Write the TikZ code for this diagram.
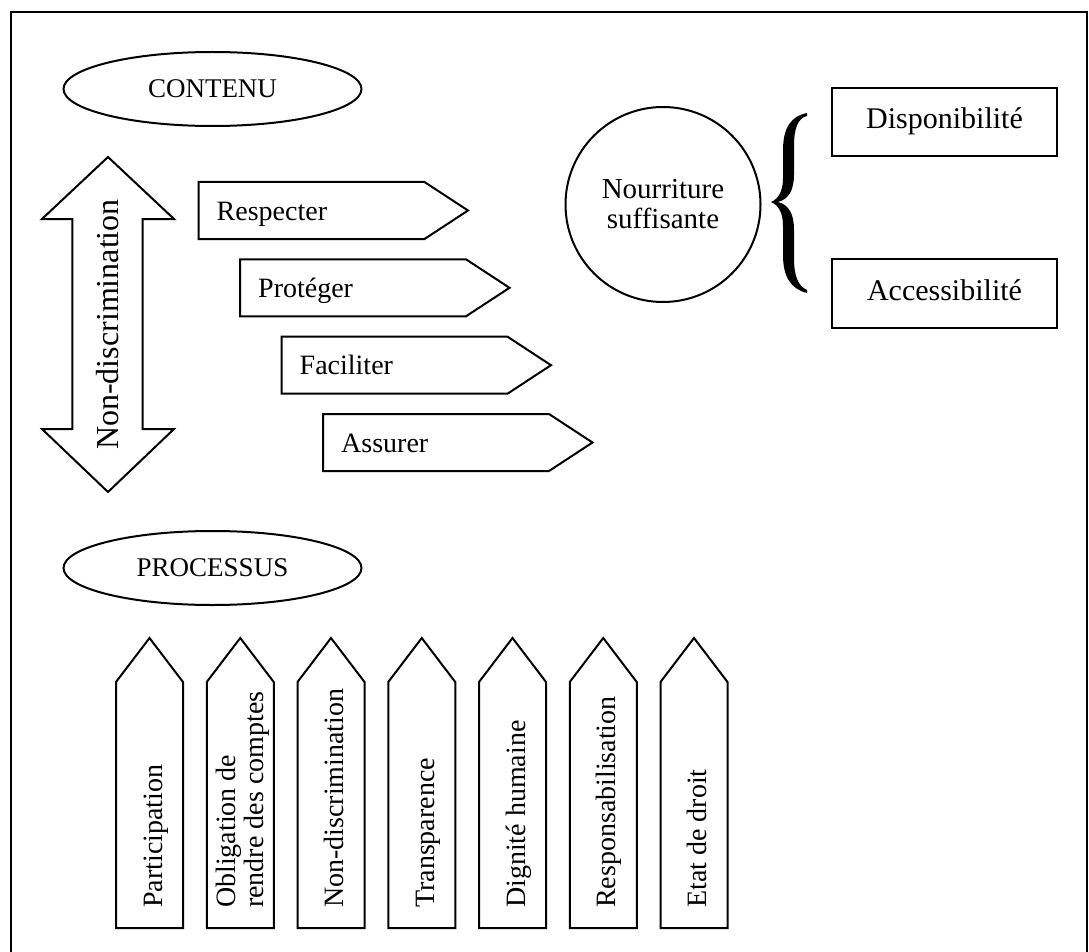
\documentclass[tikz,border=0pt]{standalone}
\usepackage{fontspec}
\setmainfont{Liberation Serif}
\usetikzlibrary{shapes.geometric}
\begin{document}
\begin{tikzpicture}[x=1pt,y=-1pt,
  shp/.style={draw, line width=2pt, line join=miter, fill=white},
  lbl/.style={font=\fontsize{28}{28}\selectfont, inner sep=0pt},
  big/.style={font=\fontsize{30}{27}\selectfont, inner sep=0pt},
  capsl/.style={font=\fontsize{27}{27}\selectfont, inner sep=0pt},
  oval/.style={shp, ellipse, minimum width=298pt, minimum height=74pt, inner sep=0pt, capsl},
  boxr/.style={shp, rectangle, minimum width=225pt, minimum height=68pt, inner sep=0pt, big, text height=20pt, text depth=6pt},
  vlbl/.style={lbl, rotate=90, anchor=base west}
]
\useasboundingbox (0,0) rectangle (1089,952);
% frame
\draw[line width=1.3pt] (11,960) -- (11,12) -- (1087,12) -- (1087,960);

% CONTENU
\node[oval] (contenu) at (212.5,89) {CONTENU};

% double arrow Non-discrimination
\draw[shp] (108,157) -- (174,219) -- (142.7,219) -- (142.7,429) -- (174,429)
  -- (108,492) -- (42,429) -- (72.3,429) -- (72.3,219) -- (42,219) -- cycle;
\node[lbl, font=\fontsize{32}{32}\selectfont, rotate=90, anchor=base] (nd) at (118,324.5) {Non-discrimination};

% pentagon arrows
\foreach \x/\y/\t/\n in {198.5/182/Respecter/a1, 240/259.3/Protéger/a2, 281.5/336.7/Faciliter/a3, 323/414/Assurer/a4}{
  \draw[shp] (\x,\y) -- (\x+226,\y) -- (\x+269.5,\y+28.5) -- (\x+226,\y+57) -- (\x,\y+57) -- cycle;
  \node[lbl, anchor=base west] (\n) at (\x+18,\y+38) {\t};
}

% circle
\node[shp, circle, minimum size=195pt, inner sep=0pt, font=\fontsize{29}{30}\selectfont, align=center] (food) at (663,204.5) {Nourriture\\suffisante};

% brace
\fill (807,113) .. controls (791,116) and (783,128) .. (783,150) -- (783,178)
  .. controls (783,192) and (778,199) .. (771,202)
  .. controls (778,205) and (783,212) .. (783,226) -- (783,255)
  .. controls (783,277) and (791,289) .. (807,293)
  -- (807,290) .. controls (798,286) and (794,276) .. (794,258) -- (794,230)
  .. controls (794,214) and (789,205) .. (778,202)
  .. controls (789,199) and (794,190) .. (794,174) -- (794,146)
  .. controls (794,128) and (798,118) .. (807,116) -- cycle;

% boxes
\node[boxr] (dispo) at (944.5,122) {Disponibilité};
\node[boxr, minimum height=69pt] (acces) at (944.5,293.5) {Accessibilité};

% PROCESSUS
\node[oval] (processus) at (212.5,568) {PROCESSUS};

% process arrows
\foreach \i in {0,...,6}{
  \pgfmathsetmacro{\L}{116+90.75*\i}
  \draw[shp] (\L,928) -- (\L,682) -- (\L+33.5,638) -- (\L+67,682) -- (\L+67,928) -- cycle;
}
\foreach \i/\t in {0/Participation, 2/Non-discrimination, 3/Transparence, 4/Dignité humaine, 5/Responsabilisation, 6/Etat de droit}{
  \pgfmathsetmacro{\L}{116+90.75*\i}
  \node[vlbl] (p\i) at (\L+46,908) {\t};
}
\node[lbl, rotate=90, anchor=west, align=left] (p1) at (242.5,908) {Obligation de\\rendre des comptes};
\end{tikzpicture}
\end{document}
